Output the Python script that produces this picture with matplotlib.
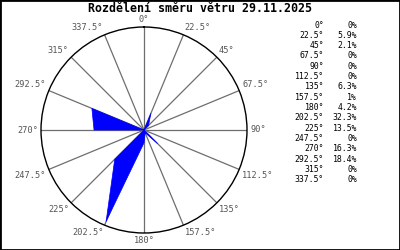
import numpy as np
import matplotlib.pyplot as plt
from matplotlib.patches import Rectangle

# data
directions = [0, 22.5, 45, 67.5, 90, 112.5, 135, 157.5, 180, 202.5, 225, 247.5, 270, 292.5, 315, 337.5]
dir_labels = ['0', '22.5', '45', '67.5', '90', '112.5', '135', '157.5', '180', '202.5',
              '225', '247.5', '270', '292.5', '315', '337.5']
percent = [0, 5.9, 2.1, 0, 0, 0, 6.3, 1, 4.2, 32.3, 13.5, 0, 16.3, 18.4, 0, 0]
pct_labels = ['0', '5.9', '2.1', '0', '0', '0', '6.3', '1', '4.2', '32.3',
              '13.5', '0', '16.3', '18.4', '0', '0']
title = 'Rozdělení směru větru 29.11.2025'

rmax = 33.6
mono = 'DejaVu Sans Mono'

fig = plt.figure(figsize=(4, 2.5), dpi=100)
fig.patch.set_facecolor('white')

ax = fig.add_axes([0.1025, 0.068, 0.515, 0.824], projection='polar')
ax.set_theta_zero_location('N')
ax.set_theta_direction(-1)
ax.set_ylim(0, rmax)
ax.grid(False)
ax.set_xticks([])
ax.set_yticks([])
ax.spines['polar'].set_color('black')
ax.spines['polar'].set_linewidth(1.0)

th = np.radians(directions)

# spokes
for t in th:
    ax.plot([t, t], [0, rmax], color='#6e6e6e', lw=0.9, zorder=1)

# filled rose
tt = np.append(th, th[0])
rr = np.append(percent, percent[0])
ax.fill(tt, rr, facecolor='#0000ff', edgecolor='#0000ff', lw=0.5, zorder=2)

# angle labels round the circle
for t, lab in zip(th, dir_labels):
    s, c = np.sin(t), np.cos(t)
    ha = 'left' if s > 0.01 else ('right' if s < -0.01 else 'center')
    va = 'bottom' if c > 0.01 else ('top' if c < -0.01 else 'center')
    ax.text(t, rmax * 1.03, lab + '°', ha=ha, va=va, fontsize=6.2,
            family=mono, color='#555555', clip_on=False)

fig.text(0.5, 0.968, title, ha='center', va='center', fontsize=8.4,
         family=mono, fontweight='bold')

# table on the right
for i, (d, p) in enumerate(zip(dir_labels, pct_labels)):
    y = 1 - (25 + i * 10.33) / 250
    fig.text(324 / 400, y, d + '°', ha='right', va='center', fontsize=5.9, family=mono)
    fig.text(357 / 400, y, p + '%', ha='right', va='center', fontsize=5.9, family=mono)

fig.patches.append(Rectangle((0, 0), 1, 1, transform=fig.transFigure,
                             fill=False, edgecolor='black', lw=2))

fig.savefig('out.png', dpi=100)
